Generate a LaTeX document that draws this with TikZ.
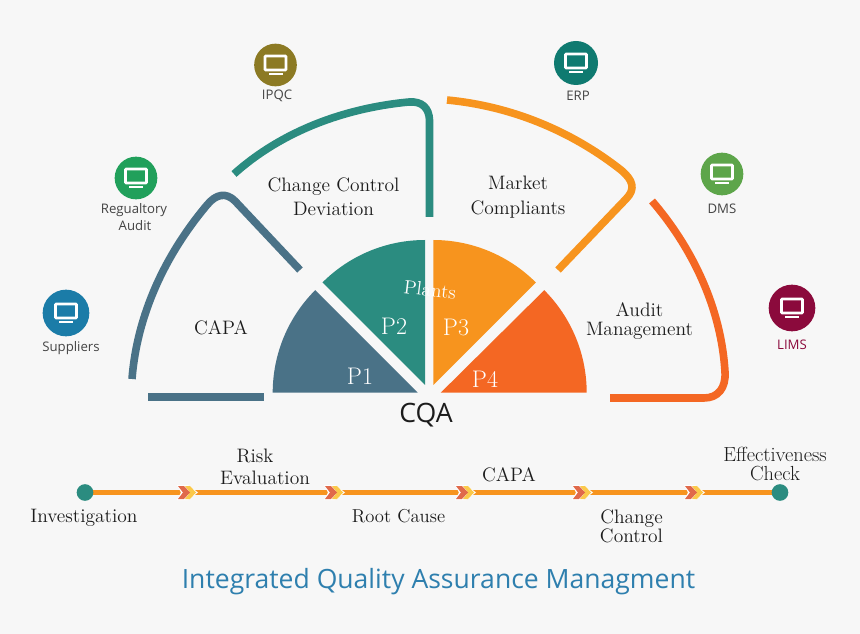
\documentclass[tikz,border=0pt]{standalone}
\usepackage{fontspec}
\setsansfont{Open Sans}
\usetikzlibrary{calc}
\definecolor{bgc}{HTML}{F7F7F7}
\definecolor{slatec}{HTML}{4A7287}
\definecolor{tealc}{HTML}{2B8C80}
\definecolor{orangec}{HTML}{F7941E}
\definecolor{redc}{HTML}{F46723}
\definecolor{titlec}{HTML}{2E7FAE}
\definecolor{inkc}{HTML}{1C1C1C}
\definecolor{greyc}{HTML}{444444}
\definecolor{chevr}{HTML}{E0694A}
\definecolor{chevy}{HTML}{FBC94A}
\definecolor{limsc}{HTML}{8B0A3C}
\definecolor{icbluec}{HTML}{1B7CA8}
\definecolor{icgreenc}{HTML}{21A05B}
\definecolor{icolivec}{HTML}{8C7A24}
\definecolor{icteal}{HTML}{0F7A70}
\definecolor{icleaf}{HTML}{5DA54A}
\tikzset{
  x=0.75pt,y=-0.75pt,
  band/.style={line width=5.7pt,line cap=butt,line join=round},
  serifl/.style={font=\fontsize{14.6}{14.6}\selectfont,text=inkc,inner sep=0pt,align=center},
  pnum/.style={font=\fontsize{18}{20}\selectfont\addfontfeatures{Numbers=OldStyle},text=white,inner sep=0pt},
  iconlabel/.style={font=\sffamily\fontsize{9.9}{11}\selectfont,text=greyc,inner sep=0pt},
  dotnode/.style={circle,fill=tealc,minimum size=12.5pt,inner sep=0pt},
  flow/.style={line width=3.8pt,orangec},
  chevnode/.style={inner sep=0pt,minimum size=0pt},
  chev/.pic={
    \fill[white] (-8,-7.5) -- (3,-7.5) -- (13,0) -- (3,7.5) -- (-8,7.5) -- (-4,0) -- cycle;
    \fill[chevy] (0,-6.5) -- (5,-6.5) -- (11,0) -- (5,6.5) -- (0,6.5) -- (5,0) -- cycle;
    \fill[chevr] (-7,-6.5) -- (-1,-6.5) -- (5,0) -- (-1,6.5) -- (-7,6.5) -- (-2,0) -- cycle;
  },
  iconpic/.pic={
    \draw[white,line width=1.9pt,rounded corners=0.5pt] (-10.5,-9) rectangle (10.5,5);
    \fill[white] (-7,8) rectangle (7,10);
  }
}
\newcommand{\iconat}[5]{%
  \node[circle,fill=#5,minimum size=#4,inner sep=0pt] (#1) at (#2,#3) {};
  \pic at (#1) {iconpic};
}
\begin{document}
\begin{tikzpicture}
\useasboundingbox (0,0) rectangle (860,634);
\fill[bgc] (0,0) rectangle (860,634);

% sectors
\def\Rr{108.75pt}
\fill[slatec] (417.7,392.7) -- (272.7,392.7) arc[start angle=180,delta angle=-45,radius=\Rr] -- cycle;
\fill[tealc] (425,385) -- (425,240) arc[start angle=90,delta angle=45,radius=\Rr] -- cycle;
\fill[orangec] (433.3,385) -- (433.3,240) arc[start angle=90,delta angle=-45,radius=\Rr] -- cycle;
\fill[redc] (440.7,392.7) -- (586.7,392.7) arc[start angle=0,delta angle=45,radius=\Rr] -- cycle;

% outer bands
\draw[band,slatec] (132,379) .. controls (137,315) and (165,255) .. (207,205)
  .. controls (216,194) and (226,192) .. (235,201) -- (300,270);
\fill[slatec] (148,393) rectangle (264,401);
\draw[band,tealc] (234,174) .. controls (282,131) and (345,108) .. (409,102)
  .. controls (422,101) and (429,108) .. (429.5,120) -- (429.5,217);
\draw[band,orangec] (447,100) .. controls (510,106) and (570,130) .. (621,170)
  .. controls (633,180) and (636,189) .. (626,199) -- (558,270);
\draw[band,redc] (652,201) .. controls (690,245) and (721,305) .. (725,372)
  .. controls (726,388) and (718,398) .. (704,398) -- (610,398);

% sector labels
\node[pnum] (p1) at (360,376) {P1};
\node[pnum] (p2) at (394,326) {P2};
\node[pnum] (p3) at (456,327) {P3};
\node[pnum] (p4) at (485,379) {P4};
\node[font=\fontsize{14.5}{15}\selectfont,text=white,inner sep=0pt,rotate=-7] (plants) at (430,290) {Plants};
\node[font=\sffamily\fontsize{20}{22}\selectfont,text=inkc,inner sep=0pt] (cqa) at (426,415) {CQA};

% section labels
\node[serifl,font=\fontsize{14.6}{18}\selectfont] (ccl) at (333.5,197) {Change Control\\Deviation};
\node[serifl,font=\fontsize{14.6}{19}\selectfont] (mkt) at (518,197) {Market\\Compliants};
\node[serifl] (capa) at (221,328) {CAPA};
\node[serifl,font=\fontsize{14.6}{14.5}\selectfont] (mgt) at (639.5,321) {Audit\\Management};

% icons
\iconat{isup}{66}{313}{35pt}{icbluec}
\iconat{ireg}{136}{178}{32pt}{icgreenc}
\iconat{iipq}{275.5}{65}{32pt}{icolivec}
\iconat{ierp}{576}{63}{33pt}{icteal}
\iconat{idms}{722}{174}{32pt}{icleaf}
\iconat{ilim}{792}{308}{35pt}{limsc}
\node[iconlabel] (lsup) at (71,348) {Suppliers};
\node[iconlabel] (lreg) at (134,210) {Regualtory};
\node[iconlabel] (lreg2) at (135,226) {Audit};
\node[iconlabel] (lipq) at (277,96) {IPQC};
\node[iconlabel] (lerp) at (578,96) {ERP};
\node[iconlabel] (ldms) at (722,209) {DMS};
\node[iconlabel,text=limsc] (llim) at (792,345) {LIMS};

% timeline
\node[chevnode] (c1) at (185,492.5) {};
\node[chevnode] (c2) at (332,492.5) {};
\node[chevnode] (c3) at (463,492.5) {};
\node[chevnode] (c4) at (580,492.5) {};
\node[chevnode] (c5) at (692,492.5) {};
\coordinate (startc) at (85,492.5);
\coordinate (stopc) at (780,492.5);
\draw[flow] (startc) -- (c1);
\draw[flow] (c1) -- (c2);
\draw[flow] (c2) -- (c3);
\draw[flow] (c3) -- (c4);
\draw[flow] (c4) -- (c5);
\draw[flow] (c5) -- (stopc);
\node[dotnode] (start) at (startc) {};
\node[dotnode] (stop) at (stopc) {};
\pic at (c1) {chev};
\pic at (c2) {chev};
\pic at (c3) {chev};
\pic at (c4) {chev};
\pic at (c5) {chev};

\node[serifl] (tinv) at (84,518) {Investigation};
\node[serifl] (trisk) at (255,456) {Risk};
\node[serifl] (teval) at (265,478) {Evaluation};
\node[serifl,font=\fontsize{14}{16}\selectfont] (troot) at (398.5,516) {Root Cause};
\node[serifl] (tcapa) at (509,475) {CAPA};
\node[serifl,font=\fontsize{14.6}{14.2}\selectfont] (tchg) at (631.5,526) {Change\\Control};
\node[serifl,font=\fontsize{15.3}{14}\selectfont] (teff) at (775,464) {Effectiveness\\Check};

\node[font=\sffamily\fontsize{19.9}{22}\selectfont,text=titlec,inner sep=0pt] (title) at (438.5,582) {Integrated Quality Assurance Managment};
\end{tikzpicture}
\end{document}
